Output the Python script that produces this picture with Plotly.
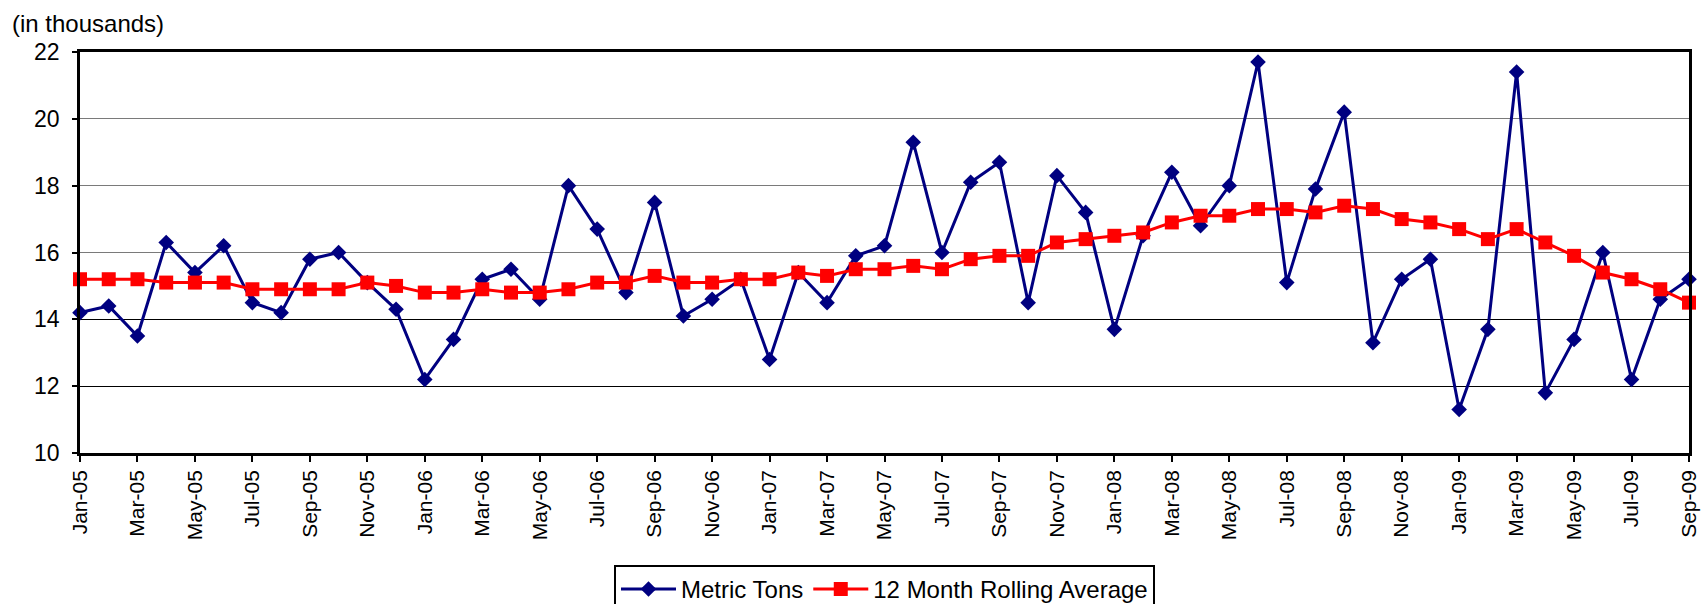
import plotly.graph_objects as go

months = [
    "Jan-05", "Feb-05", "Mar-05", "Apr-05", "May-05", "Jun-05", "Jul-05", "Aug-05", "Sep-05", "Oct-05", "Nov-05", "Dec-05",
    "Jan-06", "Feb-06", "Mar-06", "Apr-06", "May-06", "Jun-06", "Jul-06", "Aug-06", "Sep-06", "Oct-06", "Nov-06", "Dec-06",
    "Jan-07", "Feb-07", "Mar-07", "Apr-07", "May-07", "Jun-07", "Jul-07", "Aug-07", "Sep-07", "Oct-07", "Nov-07", "Dec-07",
    "Jan-08", "Feb-08", "Mar-08", "Apr-08", "May-08", "Jun-08", "Jul-08", "Aug-08", "Sep-08", "Oct-08", "Nov-08", "Dec-08",
    "Jan-09", "Feb-09", "Mar-09", "Apr-09", "May-09", "Jun-09", "Jul-09", "Aug-09", "Sep-09",
]

metric_tons = [
    14.2, 14.4, 13.5, 16.3, 15.4, 16.2, 14.5, 14.2, 15.8, 16.0, 15.1, 14.3,
    12.2, 13.4, 15.2, 15.5, 14.6, 18.0, 16.7, 14.8, 17.5, 14.1, 14.6, 15.2,
    12.8, 15.4, 14.5, 15.9, 16.2, 19.3, 16.0, 18.1, 18.7, 14.5, 18.3, 17.2,
    13.7, 16.5, 18.4, 16.8, 18.0, 21.7, 15.1, 17.9, 20.2, 13.3, 15.2, 15.8,
    11.3, 13.7, 21.4, 11.8, 13.4, 16.0, 12.2, 14.6, 15.2,
]

rolling_avg = [
    15.2, 15.2, 15.2, 15.1, 15.1, 15.1, 14.9, 14.9, 14.9, 14.9, 15.1, 15.0,
    14.8, 14.8, 14.9, 14.8, 14.8, 14.9, 15.1, 15.1, 15.3, 15.1, 15.1, 15.2,
    15.2, 15.4, 15.3, 15.5, 15.5, 15.6, 15.5, 15.8, 15.9, 15.9, 16.3, 16.4,
    16.5, 16.6, 16.9, 17.1, 17.1, 17.3, 17.3, 17.2, 17.4, 17.3, 17.0, 16.9,
    16.7, 16.4, 16.7, 16.3, 15.9, 15.4, 15.2, 14.9, 14.5,
]

tick_labels = months[::2]
y_ticks = [10, 12, 14, 16, 18, 20, 22]
dark_grid_ticks = [12, 14]

FONT = "Arial, 'Liberation Sans', sans-serif"

fig = go.Figure()
fig.add_trace(go.Scatter(
    x=months, y=metric_tons, name="Metric Tons", mode="lines+markers",
    line=dict(color="#000080", width=3),
    marker=dict(symbol="diamond", size=12, color="#000080"),
    cliponaxis=False,
))
fig.add_trace(go.Scatter(
    x=months, y=rolling_avg, name="12 Month Rolling Average", mode="lines+markers",
    line=dict(color="#FF0000", width=3),
    marker=dict(symbol="square", size=14, color="#FF0000"),
    cliponaxis=False,
))
# helper (empty) trace so the overlaying axis with dark gridlines is drawn
fig.add_trace(go.Scatter(
    x=[months[0]], y=[None], yaxis="y2", mode="lines",
    showlegend=False, hoverinfo="skip",
))

fig.update_layout(
    width=1701, height=604,
    margin=dict(l=80, r=12, t=52, b=151, autoexpand=False),
    paper_bgcolor="white", plot_bgcolor="white",
    font=dict(family=FONT, size=22, color="black"),
    showlegend=True,
    legend=dict(
        orientation="h", x=0.5, xanchor="center", y=-0.279, yanchor="top",
        bordercolor="black", borderwidth=2, bgcolor="white",
        font=dict(family=FONT, size=24, color="black"),
        itemwidth=55,
    ),
    xaxis=dict(
        type="category", range=[0, len(months) - 1],
        tickmode="array", tickvals=tick_labels, ticktext=tick_labels,
        tickangle=-90, tickfont=dict(family=FONT, size=21, color="black"),
        ticklabeloverflow="allow",
        ticks="outside", ticklen=6, tickwidth=1.5, tickcolor="black",
        showline=True, linecolor="black", linewidth=2.5, mirror=True,
        showgrid=False, zeroline=False,
    ),
    yaxis=dict(
        range=[10, 22], tickmode="array", tickvals=y_ticks,
        tickfont=dict(family=FONT, size=23, color="black"),
        ticks="outside", ticklen=5, tickwidth=1.5, tickcolor="black",
        ticklabelstandoff=8,
        showline=True, linecolor="black", linewidth=2.5, mirror=True,
        showgrid=True, gridcolor="#7a7a7a", gridwidth=1.2, zeroline=False,
    ),
    yaxis2=dict(
        overlaying="y", anchor="x", side="left", range=[10, 22],
        tickmode="array", tickvals=dark_grid_ticks, showticklabels=False,
        ticks="", showline=False, showgrid=True, gridcolor="black",
        gridwidth=1.2, zeroline=False,
    ),
    annotations=[dict(
        text="(in thousands)", xref="paper", yref="paper", x=0, y=1,
        xanchor="left", yanchor="middle", xshift=-70, yshift=29,
        showarrow=False, font=dict(family=FONT, size=24, color="black"),
    )],
)

fig.write_html(
    "out.html",
    config={"displayModeBar": False},
    post_script="document.body.style.margin='0';document.body.style.padding='0';document.body.style.overflow='hidden';",
)
